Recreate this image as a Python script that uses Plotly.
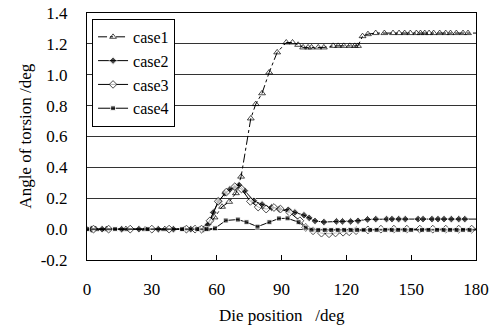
import plotly.graph_objects as go

# ---------------- data ----------------
case1_x = [0, 4, 9, 18, 27, 36, 45, 52, 55.3, 59, 62.5, 65.8, 68.9, 71.3, 75.8, 78.1, 81, 84.3,
           88, 92.2, 95.1, 97.7, 100, 102.3, 103.9, 107, 109.6, 113.9, 116.2, 118.8, 121.6, 123.9,
           125.4, 127.5, 130, 133.6, 137.6, 141.6, 144.4, 147, 149.6, 152.4, 154.3, 156.3, 158.3,
           160.4, 163.2, 166, 168.2, 170.9, 174, 176.3, 180]
case1_y = [0, 0, 0, 0, 0, 0, 0, 0, 0, 0.076, 0.145, 0.177, 0.233, 0.34, 0.717, 0.81, 0.88, 1.015,
           1.145, 1.209, 1.209, 1.194, 1.177, 1.177, 1.177, 1.177, 1.177, 1.187, 1.187, 1.187, 1.187, 1.187,
           1.187, 1.25, 1.263, 1.27, 1.27, 1.27, 1.27, 1.27, 1.27, 1.27, 1.27, 1.27, 1.27,
           1.27, 1.27, 1.27, 1.27, 1.27, 1.27, 1.27, 1.27]

case2_x = [2, 7, 16, 24, 33, 40, 48, 54, 56, 58.4, 61, 63.8, 66.1, 68.5, 70.4, 73, 77.2, 81, 85.4,
           89, 93.1, 96.2, 100.4, 102.8, 105.5, 109.6, 115.4, 118.2, 122, 125.4, 129.8, 133.6, 138.6,
           141.1, 144.2, 147.3, 153.2, 155.5, 159.6, 162.4, 165.2, 168.6, 172, 174.8, 180]
case2_y = [0, 0, 0, 0, 0, 0, 0, 0, 0.03, 0.108, 0.18, 0.232, 0.257, 0.27, 0.285, 0.248, 0.183, 0.16, 0.14,
           0.13, 0.125, 0.108, 0.09, 0.073, 0.053, 0.046, 0.05, 0.05, 0.05, 0.054, 0.063, 0.065, 0.065,
           0.065, 0.065, 0.065, 0.065, 0.065, 0.065, 0.065, 0.065, 0.065, 0.065, 0.065, 0.065]

case3_x = [3, 10, 20, 30, 38, 46, 50, 53, 56.9, 60.7, 64.5, 68.4, 71.5, 75.6, 79.2, 82.9, 86.5, 89.5,
           93.8, 98.5, 101.2, 104.6, 108.5, 112, 115, 118.5, 121.3, 124.5, 130, 136, 142, 148, 154,
           160, 166, 172, 178, 180]
case3_y = [0, 0, 0, 0, 0, 0, 0, 0, 0.054, 0.18, 0.24, 0.275, 0.26, 0.18, 0.143, 0.13, 0.14, 0.13,
           0.108, 0.054, 0.011, -0.011, -0.026, -0.03, -0.025, -0.02, -0.017, -0.01, -0.005, 0, 0, 0, 0,
           0, 0, 0, 0, 0]

case4_x = [0, 13, 28, 44, 51, 55.3, 59.2, 64.2, 69.8, 73.8, 78.9, 84.4, 88.8, 92.8, 97.9, 101.2, 103.9,
           107, 110, 113, 116, 119, 122, 125, 128, 131, 134, 138, 141, 144, 147, 150, 155, 158, 162,
           165, 168, 171, 174, 177, 180]
case4_y = [0, 0, 0, 0, 0, 0, 0.005, 0.056, 0.062, 0.045, 0.016, 0.045, 0.069, 0.07, 0.045, 0.01, -0.004,
           -0.005, -0.005, -0.005, -0.005, -0.005, -0.005, -0.005, -0.005, -0.005, -0.005, -0.005, -0.005,
           -0.005, -0.005, -0.005, -0.005, -0.005, -0.005, -0.005, -0.005, -0.005, -0.005, -0.005, -0.005]

x_ticks = [0, 30, 60, 90, 120, 150, 180]
y_ticks = [-0.2, 0.0, 0.2, 0.4, 0.6, 0.8, 1.0, 1.2, 1.4]
y_tick_labels = ["-0.2", "0.0", "0.2", "0.4", "0.6", "0.8", "1.0", "1.2", "1.4"]

FONT = "serif"


def sizes(xs, s):
    # last point (at 180) is a line end without marker
    return [s] * (len(xs) - 1) + [0]


fig = go.Figure()
fig.add_trace(go.Scatter(
    x=case1_x, y=case1_y, name="case1", mode="lines+markers",
    line=dict(color="black", width=1, dash="dashdot"),
    marker=dict(symbol="triangle-up-open", size=sizes(case1_x, 6), color="black",
                line=dict(width=1, color="black"))))
fig.add_trace(go.Scatter(
    x=case2_x, y=case2_y, name="case2", mode="lines+markers",
    line=dict(color="black", width=1),
    marker=dict(symbol="diamond", size=sizes(case2_x, 6), color="black")))
fig.add_trace(go.Scatter(
    x=case3_x, y=case3_y, name="case3", mode="lines+markers",
    line=dict(color="black", width=1),
    marker=dict(symbol="diamond", size=sizes(case3_x, 6), color="white",
                line=dict(width=1, color="black"))))
fig.add_trace(go.Scatter(
    x=case4_x, y=case4_y, name="case4", mode="lines+markers",
    line=dict(color="black", width=1),
    marker=dict(symbol="square", size=sizes(case4_x, 5), color="black")))

fig.update_layout(
    width=499, height=326,
    margin=dict(l=87, r=23, t=13, b=66, autoexpand=False),
    paper_bgcolor="white", plot_bgcolor="white",
    font=dict(family=FONT, size=17, color="black"),
    showlegend=True,
    legend=dict(x=0.013, y=0.976, xanchor="left", yanchor="top",
                bgcolor="white", bordercolor="black", borderwidth=1,
                font=dict(family=FONT, size=16), tracegroupgap=0,
                itemwidth=30, entrywidth=78),
    xaxis=dict(range=[0, 180], tickvals=x_ticks, ticks="inside", ticklen=5,
               tickcolor="black", showgrid=False, zeroline=False, automargin=False,
               showline=True, linecolor="black", linewidth=1, mirror=True,
               ticklabelstandoff=14, tickfont=dict(family=FONT, size=17)),
    yaxis=dict(range=[-0.2, 1.4], tickvals=y_ticks, ticktext=y_tick_labels,
               ticks="outside", ticklen=15, tickcolor="white", automargin=False,
               showgrid=True, gridcolor="#333333", gridwidth=1,
               zeroline=False, showline=True, linecolor="black", linewidth=1,
               mirror=True, tickfont=dict(family=FONT, size=17)),
    annotations=[
        dict(text="Angle of torsion /deg", xref="paper", yref="paper",
             x=-0.159, y=0.5, textangle=-90, showarrow=False,
             xanchor="center", yanchor="middle", font=dict(family=FONT, size=17)),
        dict(text="Die position \u00a0\u00a0/deg", xref="paper", yref="paper",
             x=0.5, y=-0.225, showarrow=False,
             xanchor="center", yanchor="middle", font=dict(family=FONT, size=17)),
    ],
)

fig.write_html("out.html", config={"displayModeBar": False},
               post_script="document.body.style.margin='0';")
